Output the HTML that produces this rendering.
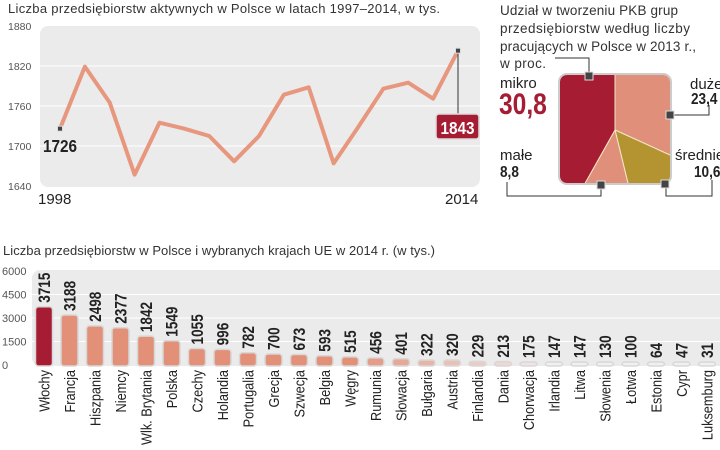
<!DOCTYPE html>
<html><head><meta charset="utf-8"><style>
body{margin:0;width:720px;height:450px;background:#fff;overflow:hidden;font-family:"Liberation Sans",sans-serif}
svg{position:absolute;left:0;top:0}
</style></head><body>
<svg width="720" height="450" viewBox="0 0 720 450">
<g id="line"></g>
<g id="pie"></g>
<g id="bars"></g>
</svg>
<script>
const years=[1998,1999,2000,2001,2002,2003,2004,2005,2006,2007,2008,2009,2010,2011,2012,2013,2014];
const firms=[1726,1819,1765,1657,1735,1726,1715,1677,1715,1777,1788,1674,1729,1786,1795,1771,1843];
const lineTicks=[1640,1700,1760,1820,1880];
const pieLabels=["duże","średnie","małe","mikro"];
const pieValues=[23.4,10.6,8.8,30.8];
const countries=["Włochy","Francja","Hiszpania","Niemcy","Wlk. Brytania","Polska","Czechy","Holandia","Portugalia","Grecja","Szwecja","Belgia","Węgry","Rumunia","Słowacja","Bułgaria","Austria","Finlandia","Dania","Chorwacja","Irlandia","Litwa","Słowenia","Łotwa","Estonia","Cypr","Luksemburg"];
const counts=[3715,3188,2498,2377,1842,1549,1055,996,782,700,673,593,515,456,401,322,320,229,213,175,147,147,130,100,64,47,31];
const barTicks=[0,1500,3000,4500,6000];
const NS="http://www.w3.org/2000/svg";
function mk(p,t,a,txt){const e=document.createElementNS(NS,t);for(const k in a)e.setAttribute(k,a[k]);if(txt!==undefined)e.textContent=txt;p.appendChild(e);return e;}
// ---- line chart
const L=document.getElementById('line');
const lx=y=>60+(y-years[0])*(458-60)/(years[years.length-1]-years[0]);
const ly=v=>186-(v-1640)*(160/240);
let t=mk(L,'text',{x:8,y:13,'font-size':13,fill:'#333',textLength:432},'Liczba przedsiębiorstw aktywnych w Polsce w latach 1997–2014, w tys.');

let r=mk(L,'rect',{x:40,y:26,width:440,height:161,rx:8,fill:'#ebebeb'});

lineTicks.forEach(v=>{
 if(v>1640&&v<1880){const g=mk(L,'line',{x1:40,x2:480,y1:ly(v),y2:ly(v),stroke:'#fff','stroke-width':1});}
 const tt=mk(L,'text',{x:8,y:ly(v)+4,'font-size':10.5,fill:'#555'},String(v));
 
});
const pl=mk(L,'polyline',{points:years.map((y,i)=>lx(y)+','+ly(firms[i])).join(' '),fill:'none',stroke:'#e8977f','stroke-width':4,'stroke-linejoin':'round'});

let e=mk(L,'text',{x:38,y:204,'font-size':15,fill:'#222'},String(years[0]));
e=mk(L,'text',{x:445,y:204,'font-size':15,fill:'#222'},String(years[16]));
e=mk(L,'rect',{x:lx(years[0])-2.5,y:ly(firms[0])-2.5,width:5,height:5,fill:'#444',stroke:'#ddd'});
e=mk(L,'text',{x:0,y:0,'font-size':18,'font-weight':'bold',fill:'#222',transform:'translate(43,152) scale(0.85,1)'},String(firms[0]));
const ex=lx(years[16]),ey=ly(firms[16]);
e=mk(L,'line',{x1:ex,x2:ex,y1:ey,y2:116,stroke:'#333','stroke-width':1});
e=mk(L,'rect',{x:ex-2.5,y:ey-2.5,width:5,height:5,fill:'#444',stroke:'#ddd'});
e=mk(L,'rect',{x:436,y:114,width:43,height:25,rx:3,fill:'#a51c33',stroke:'#ddd','stroke-width':1.5});
e=mk(L,'text',{x:0,y:0,'font-size':18,'font-weight':'bold',fill:'#fff','text-anchor':'middle',transform:'translate(457.5,134) scale(0.85,1)'},String(firms[16]));
// ---- pie
const P=document.getElementById('pie');
[['Udział w tworzeniu PKB grup',15,178],['przedsiębiorstw według liczby',33,190],['pracujących w Polsce w 2013 r.,',51,196],['w proc.',68,46]].forEach((s,i)=>{
 const tt=mk(P,'text',{x:500,y:s[1],'font-size':13.5,fill:'#333',textLength:s[2]},s[0]);});
const defs=mk(P,'defs',{});const cp=mk(defs,'clipPath',{id:'sq'});mk(cp,'rect',{x:560,y:75,width:110,height:108,rx:7});
e=mk(P,'rect',{x:559,y:74,width:112,height:110,rx:8,fill:'#fff',stroke:'#ccc','stroke-width':2});
const cx=615,cy=130,R=120;const tot=pieValues.reduce((a,b)=>a+b,0);const cols=['#e0907a','#b39430','#e0907a','#a51c33'];
const g=mk(P,'g',{'clip-path':'url(#sq)'});let a0=0;
pieValues.forEach((v,i)=>{const a1=a0+v/tot*2*Math.PI;
 const p=`M${cx},${cy}L${cx+R*Math.sin(a0)},${cy-R*Math.cos(a0)}A${R},${R} 0 ${a1-a0>Math.PI?1:0} 1 ${cx+R*Math.sin(a1)},${cy-R*Math.cos(a1)}Z`;
 const s=mk(g,'path',{d:p,fill:cols[i],stroke:'#f5e6c8','stroke-width':1});a0=a1;});
[['M555,58 L589,58 L589,75'],['M670,115 L709,115 L709,105'],['M507,182 L507,196 L601,196 L601,186'],['M666,188 L666,196 L712,196 L712,180']].forEach(d=>{e=mk(P,'path',{d:d[0],fill:'none',stroke:'#333','stroke-width':1});});
[[589,76],[670,115],[601,185],[665,184]].forEach(q=>{e=mk(P,'rect',{x:q[0]-4,y:q[1]-4,width:8,height:8,fill:'#444',stroke:'#ddd'});});
const fmt=v=>String(v).replace('.',',');
e=mk(P,'text',{x:500,y:88,'font-size':15,fill:'#222'},pieLabels[3]);
e=mk(P,'text',{x:0,y:0,'font-size':30,'font-weight':'bold',fill:'#a51c33',transform:'translate(499,114) scale(0.82,1)'},fmt(pieValues[3]));
e=mk(P,'text',{x:690,y:89,'font-size':15,fill:'#222'},pieLabels[0]);
e=mk(P,'text',{x:0,y:0,'font-size':16,'font-weight':'bold',fill:'#222',transform:'translate(691,104) scale(0.85,1)'},fmt(pieValues[0]));
e=mk(P,'text',{x:500,y:160,'font-size':15,fill:'#222'},pieLabels[2]);
e=mk(P,'text',{x:0,y:0,'font-size':16,'font-weight':'bold',fill:'#222',transform:'translate(500,177) scale(0.85,1)'},fmt(pieValues[2]));
e=mk(P,'text',{x:675,y:160,'font-size':15,fill:'#222'},pieLabels[1]);
e=mk(P,'text',{x:0,y:0,'font-size':16,'font-weight':'bold',fill:'#222',transform:'translate(694,177) scale(0.85,1)'},fmt(pieValues[1]));
// ---- bars
const B=document.getElementById('bars');
e=mk(B,'text',{x:3,y:255,'font-size':13,fill:'#333',textLength:432},'Liczba przedsiębiorstw w Polsce i wybranych krajach UE w 2014 r. (w tys.)');
const by=v=>365-v*(94/6000);const bx=i=>44+i*25.5;
e=mk(B,'rect',{x:32,y:270,width:700,height:96,rx:8,fill:'#ebebeb'});
barTicks.forEach(v=>{if(v>0&&v<6000){const gl=mk(B,'line',{x1:32,x2:720,y1:by(v),y2:by(v),stroke:'#fff'});}
 const tt=mk(B,'text',{x:2,y:by(v)+4,'font-size':11,fill:'#555'},String(v));});
function mix(a,b,f){return 'rgb('+a.map((c,k)=>Math.round(c+(b[k]-c)*f)).join(',')+')';}
counts.forEach((v,i)=>{
 const f=Math.min(1,Math.max(0,(i-12)/8));
 const fill=i===0?'#a51c33':mix([227,144,121],[240,240,240],f);
 const top=Math.min(by(v),362);
 const b=mk(B,'rect',{x:bx(i)-8.5,y:top,width:17,height:366-top,rx:3,fill:fill,stroke:'#d8d8d8','stroke-width':1.5});
 
 const vl=mk(B,'text',{x:0,y:0,'font-size':17,'font-weight':'bold',fill:'#222',transform:`translate(${bx(i)+6},${top-4}) rotate(-90) scale(0.8,1)`},String(v));
 
 const cl=mk(B,'text',{x:0,y:0,'font-size':15,fill:'#222','text-anchor':'end',transform:`translate(${bx(i)+5.5},370) rotate(-90) scale(0.85,1)`},countries[i]);
 
});
</script>
</body></html>
